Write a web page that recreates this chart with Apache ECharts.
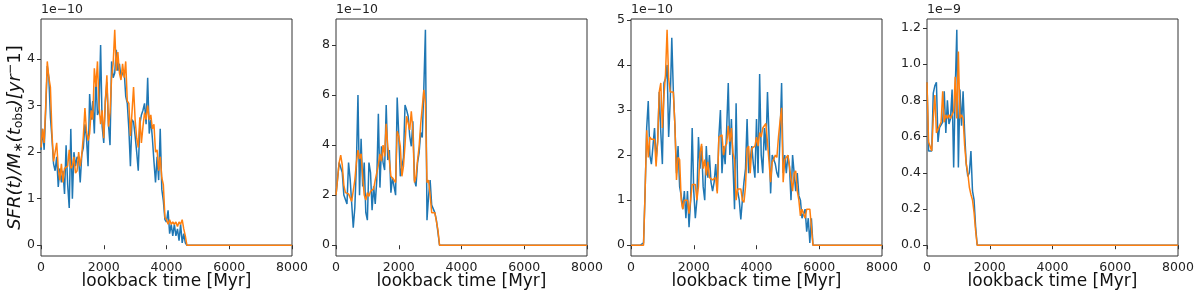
<!DOCTYPE html>
<html><head><meta charset="utf-8">
<script src="https://cdn.jsdelivr.net/npm/echarts@6/dist/echarts.min.js"></script>
<style>html,body{margin:0;padding:0;background:#fff}#c{width:1200px;height:300px}</style>
</head><body><div id="c"></div>
<script>
// sampling of the star-formation histories (lookback time, Myr)
const timeStep = 50;
const xMin = 0, xMax = 8000;
const xTicks = [0, 2000, 4000, 6000, 8000];
const xLabel = 'lookback time [Myr]';

// panel 1 (x 1e-10)
const p1Blue = [2.05,2.5,2.05,2.9,3.85,3.6,2.75,2.3,1.75,1.6,
1.9,1.25,1.65,1.35,1.6,1.1,2.15,1.3,0.8,2.5,
1.0,2.0,1.7,1.9,1.85,1.35,1.95,2.1,2.6,2.3,
1.7,3.25,2.7,3.1,2.4,3.6,2.8,2.9,4.3,2.55,
2.2,3.1,3.5,2.6,2.15,3.95,3.6,3.7,4.2,3.75,
3.9,3.6,3.7,3.75,3.2,3.05,2.5,1.7,2.7,2.65,
2.35,2.0,1.6,2.6,2.8,2.9,3.05,2.6,3.6,2.4,
2.7,2.3,1.8,1.35,1.9,1.4,2.5,1.2,0.95,0.55,
0.5,0.75,0.25,0.45,0.2,0.45,0.2,0.35,0.1,0.45,
0.05,0.25,0.05,0];
const p1Orange = [2.1,2.5,2.2,3.0,3.95,3.6,3.4,2.4,1.8,1.8,
2.2,1.65,1.4,1.75,1.35,1.65,1.65,1.7,2.05,1.65,
1.7,1.9,1.55,1.6,2.0,1.7,1.95,2.35,2.95,2.45,
2.25,2.4,2.9,2.7,3.8,3.4,3.95,3.0,2.6,2.9,
2.3,3.1,3.65,2.55,2.85,3.6,3.9,4.63,3.75,4.15,
3.7,3.55,3.9,3.6,3.95,3.1,3.05,2.35,2.85,3.4,
2.7,2.3,2.1,2.75,2.2,2.55,2.85,2.7,3.0,2.7,
2.8,2.5,2.6,2.0,2.05,1.6,1.9,1.45,1.3,0.6,
0.55,0.45,0.55,0.45,0.5,0.45,0.5,0.4,0.5,0.45,
0.55,0.35,0.2,0];

// panel 2 (x 1e-10)
const p2Blue = [2.0,2.0,3.3,3.1,2.9,2.0,1.95,1.65,3.3,2.65,
2.6,0.7,1.5,3.2,6.0,2.0,4.25,2.35,3.3,1.3,
1.0,3.3,2.9,1.4,2.35,1.65,2.6,5.25,2.3,3.95,
3.3,3.0,5.6,3.4,3.8,2.1,2.7,2.35,2.0,5.9,
4.4,2.75,2.7,3.5,5.6,5.4,5.15,4.35,3.95,4.95,
2.6,2.35,3.3,3.7,4.5,4.3,6.3,8.6,1.0,1.95,
2.6,1.6,1.6,1.3,1.0,0.5,0];
const p2Orange = [2.0,2.05,3.3,3.6,3.2,2.4,2.1,2.1,2.05,2.0,
1.75,1.7,2.6,3.3,3.8,3.45,3.65,2.75,2.0,1.8,
2.1,1.95,2.15,2.2,2.25,2.6,2.9,3.2,3.65,3.35,
4.0,3.55,4.85,3.95,3.4,2.75,2.7,2.6,2.5,4.55,
4.35,3.95,2.75,3.15,4.0,5.15,5.15,4.6,5.35,4.6,
2.5,2.75,3.4,3.95,4.85,4.85,6.2,5.65,2.5,2.6,
2.0,1.3,1.3,1.3,1.25,0.6,0];

// panel 3 (x 1e-10)
const p3Blue = [0,0,0,0,0,0,0,0,0.05,1.2,
2.6,3.2,2.0,1.8,2.2,2.6,1.9,2.3,3.4,2.5,
1.8,3.6,3.7,4.0,2.4,3.2,4.6,3.4,2.65,1.6,
2.2,1.3,1.1,0.8,1.2,0.6,1.2,0.4,1.0,2.6,
1.2,0.6,1.0,2.4,1.7,2.2,1.3,1.0,2.2,1.5,
2.0,1.4,1.2,1.4,1.8,1.2,2.4,3.0,1.6,2.2,
1.8,2.6,3.6,2.0,2.8,1.8,0.8,3.15,1.2,1.0,
0.57,1.0,1.4,1.7,2.8,1.6,1.6,2.2,1.8,1.5,
2.8,1.6,3.8,2.0,1.6,2.6,2.1,3.4,2.4,1.15,
2.0,1.9,1.8,1.6,1.5,2.4,3.6,1.6,2.0,1.6,
2.0,1.75,1.0,2.0,1.6,1.2,1.6,1.1,1.0,0.6,
0.57,0.8,0.3,0.6,0.05,0.6,0];
const p3Orange = [0,0,0,0,0,0,0,0,0,1.2,
2.55,1.95,2.4,2.35,2.35,2.35,1.75,2.3,3.4,3.6,
2.6,3.3,3.8,4.78,3.7,3.4,3.4,3.4,2.65,1.45,
1.95,1.9,1.0,0.8,1.0,1.0,1.0,0.7,1.0,1.35,
1.35,1.35,1.0,1.3,2.05,2.25,1.7,1.9,1.55,1.85,
1.5,1.5,1.45,1.45,1.5,1.15,2.4,2.4,2.45,2.0,
2.2,2.25,2.65,2.3,2.6,2.05,1.9,1.0,1.25,1.25,
1.25,1.0,0.95,1.3,2.15,2.2,1.6,2.15,2.15,2.2,
2.4,2.2,2.5,2.4,2.6,2.65,2.7,2.7,1.85,1.4,
1.85,1.9,2.0,1.95,2.4,2.75,3.05,1.4,1.9,1.9,
2.0,1.75,1.75,1.2,1.6,1.65,1.2,1.0,0.65,0.8,
0.8,0.6,0.8,0.8,0.8,0.8,0];

// panel 4 (x 1e-9)
const p4Blue = [0.90,0.52,0.52,0.52,0.84,0.88,0.90,0.57,0.65,0.66,
0.68,0.85,0.62,0.80,0.67,0.70,0.86,0.43,0.86,1.19,
0.43,0.86,0.66,0.85,0.62,0.45,0.38,0.40,0.52,0.30,
0.25,0.10,0];
const p4Orange = [0.90,0.57,0.58,0.52,0.70,0.83,0.62,0.64,0.66,0.68,
0.85,0.68,0.72,0.70,0.72,0.70,0.72,0.74,0.93,0.70,
1.07,0.70,0.72,0.70,0.55,0.45,0.40,0.32,0.28,0.25,
0.18,0.08,0];

const yTicks1 = [0, 1, 2, 3, 4];
const yTicks2 = [0, 2, 4, 6, 8];
const yTicks3 = [0, 1, 2, 3, 4, 5];
const yTicks4 = [0, 0.2, 0.4, 0.6, 0.8, 1.0, 1.2];
const offsetTexts = ['1e\u221210', '1e\u221210', '1e\u221210', '1e\u22129'];
const yDecimals = [0, 0, 0, 1];

const panels = [
  {blue: p1Blue, orange: p1Orange, ticks: yTicks1},
  {blue: p2Blue, orange: p2Orange, ticks: yTicks2},
  {blue: p3Blue, orange: p3Orange, ticks: yTicks3},
  {blue: p4Blue, orange: p4Orange, ticks: yTicks4}
];

const FONT = '"DejaVu Sans", sans-serif';
const lefts = [41, 336, 631, 927];
const gridTop = 19, gridW = 251, gridH = 237;
const BLUE = '#1f77b4', ORANGE = '#ff7f0e', AX = '#333';

function toPairs(arr) {
  const pts = arr.map((v, i) => [i * timeStep, v]);
  pts.push([xMax, 0]);
  return pts;
}

const grid = [], xAxis = [], yAxis = [], series = [], graphic = [];
panels.forEach((p, k) => {
  grid.push({left: lefts[k], top: gridTop, width: gridW, height: gridH,
    show: true, borderColor: AX, borderWidth: 1, backgroundColor: 'transparent'});
  xAxis.push({type: 'value', gridIndex: k, min: xMin, max: xMax, interval: 2000,
    name: xLabel, nameLocation: 'middle', nameGap: 17, nameMoveOverlap: false,
    nameTextStyle: {fontFamily: FONT, fontSize: 17, color: '#111'},
    axisLine: {show: false}, splitLine: {show: false},
    axisTick: {show: true, length: 4, lineStyle: {color: AX}, customValues: xTicks},
    axisLabel: {fontFamily: FONT, fontSize: 12.5, color: '#222', margin: 5,
      customValues: xTicks, formatter: v => String(Math.round(v))}});
  const all = p.blue.concat(p.orange);
  const dMax = Math.max(...all), dMin = Math.min(...all);
  const pad = 0.05 * (dMax - dMin);
  const y = {type: 'value', gridIndex: k, min: dMin - pad, max: dMax + pad,
    axisLine: {show: false}, splitLine: {show: false},
    axisTick: {show: true, length: 4, lineStyle: {color: AX}, customValues: p.ticks},
    axisLabel: {fontFamily: FONT, fontSize: 12.5, color: '#222', margin: 6,
      customValues: p.ticks, formatter: v => Number(v).toFixed(yDecimals[k])}};
  if (k === 0) {
    y.name = '{i|SFR(t)/M}{s|\u2217}{i|(t}{s|obs}{i|)[yr}{u|\u2212}{n|1]}';
    y.nameLocation = 'middle';
    y.nameGap = 15;
    y.nameMoveOverlap = false;
    y.nameTextStyle = {fontFamily: FONT, fontSize: 18, color: '#111',
      rich: {
        i: {fontFamily: FONT, fontSize: 18, fontStyle: 'italic', color: '#111', lineHeight: 22},
        n: {fontFamily: FONT, fontSize: 18, color: '#111', lineHeight: 22},
        s: {fontFamily: FONT, fontSize: 12.5, color: '#111', lineHeight: 22, padding: [8, 0, 0, 0]},
        u: {fontFamily: FONT, fontSize: 12.5, color: '#111', lineHeight: 22, padding: [0, 0, 8, 0]}
      }};
  }
  yAxis.push(y);
  series.push({type: 'line', xAxisIndex: k, yAxisIndex: k, data: toPairs(p.blue),
    showSymbol: false, symbol: 'none', lineStyle: {color: BLUE, width: 1.5}, itemStyle: {color: BLUE}, z: 2});
  series.push({type: 'line', xAxisIndex: k, yAxisIndex: k, data: toPairs(p.orange),
    showSymbol: false, symbol: 'none', lineStyle: {color: ORANGE, width: 1.5}, itemStyle: {color: ORANGE}, z: 3});
  graphic.push({type: 'text', left: lefts[k], top: 3,
    style: {text: offsetTexts[k], font: '12.5px "DejaVu Sans", sans-serif', fill: '#222'}});
});

const chart = echarts.init(document.getElementById('c'), null, {renderer: 'canvas'});
chart.setOption({animation: false, backgroundColor: '#fff', grid, xAxis, yAxis, series, graphic});
</script></body></html>
